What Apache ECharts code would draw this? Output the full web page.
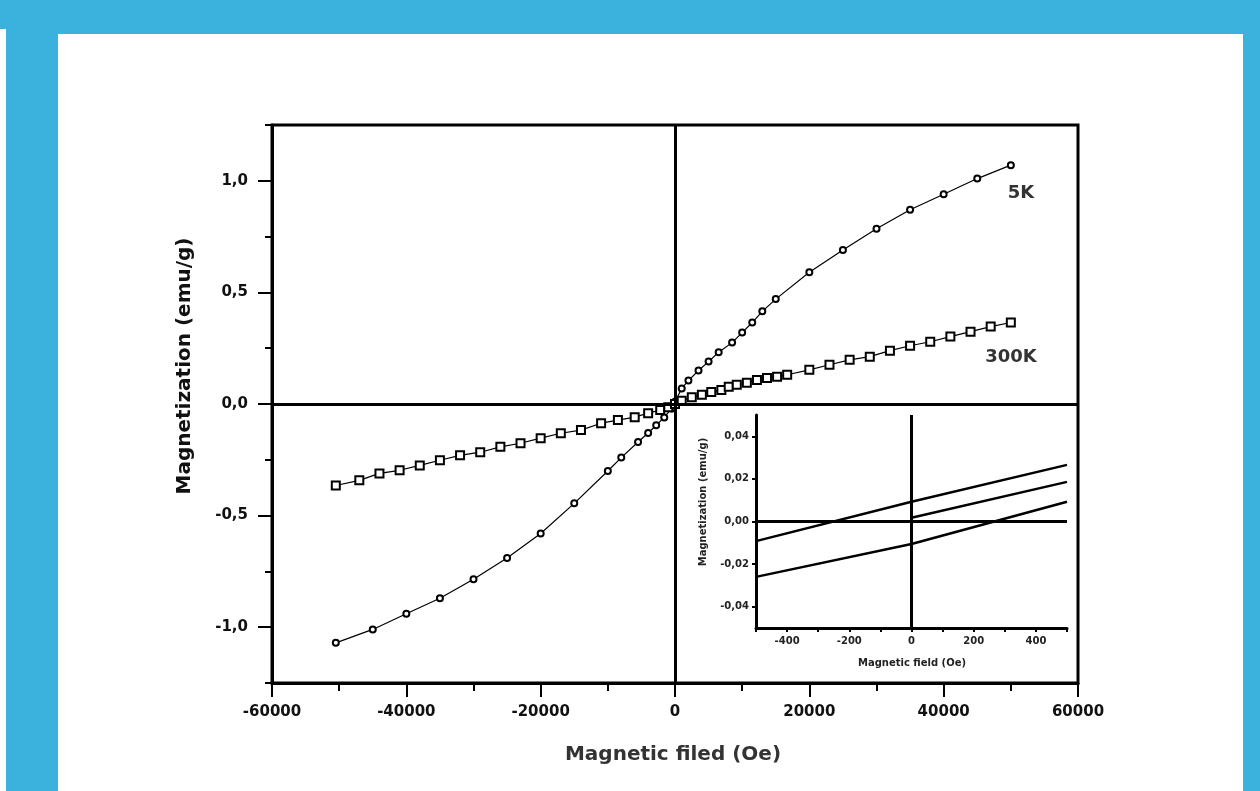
<!DOCTYPE html>
<html>
<head>
<meta charset="utf-8">
<script src="https://cdn.jsdelivr.net/npm/echarts@6/dist/echarts.min.js"></script>
<style>
  html, body { margin: 0; padding: 0; background: #fff; }
  #mainEchart { width: 1260px; height: 791px; }
</style>
</head>
<body>
<div id="mainEchart"></div>
<script>
  // main plot: field (Oe) and magnetization (emu/g)
  var field5K = [-50500, -45000, -40000, -35000, -30000, -25000, -20000, -15000, -10000, -8000,
    -5500, -4000, -2800, -1600, -500, 0, 1000, 2000, 3500, 5000,
    6500, 8500, 10000, 11500, 13000, 15000, 20000, 25000, 30000, 35000,
    40000, 45000, 50000];
  var mag5K = [-1.07, -1.01, -0.94, -0.87, -0.785, -0.69, -0.58, -0.445, -0.30, -0.24,
    -0.17, -0.13, -0.095, -0.06, -0.02, 0.01, 0.07, 0.105, 0.15, 0.19,
    0.232, 0.275, 0.32, 0.365, 0.415, 0.47, 0.59, 0.69, 0.785, 0.87,
    0.94, 1.01, 1.07];

  var field300K = [-50500, -47000, -44000, -41000, -38000, -35000, -32000, -29000, -26000, -23000, -20000,
    -17000, -14000, -11000, -8500, -6000, -4000, -2200, -1000,
    0, 1000, 2500, 4000, 5400, 6900, 8000, 9200, 10700, 12200, 13700, 15200, 16700,
    20000, 23000, 26000, 29000, 32000, 35000, 38000, 41000, 44000, 47000, 50000];
  var mag300K = [-0.365, -0.342, -0.311, -0.297, -0.275, -0.252, -0.23, -0.216, -0.192, -0.176, -0.153,
    -0.131, -0.117, -0.086, -0.072, -0.059, -0.041, -0.027, -0.015,
    0.0, 0.015, 0.03, 0.041, 0.054, 0.063, 0.077, 0.086, 0.095, 0.108, 0.117, 0.122, 0.131,
    0.153, 0.176, 0.198, 0.212, 0.239, 0.261, 0.279, 0.302, 0.324, 0.347, 0.365];

  var yTicks = [-1.0, -0.5, 0.0, 0.5, 1.0];

  // inset: low field loop
  var insetField = [-500, 0, 500];
  var insetUpper = [-0.0092, 0.0093, 0.0266];
  var insetLower = [-0.026, -0.0106, 0.0093];
  var virginField = [0, 500];
  var virginMag = [0.0018, 0.0186];
  var insetYTicks = [-0.04, -0.02, 0, 0.02, 0.04];

  function zip(xs, ys) {
    return xs.map(function (x, i) { return [x, ys[i]]; });
  }

  var FONT = '"DejaVu Sans", Arial, sans-serif';
  var BLUE = '#3bb1de';
  var zeroLines = {
    silent: true,
    symbol: 'none',
    label: { show: false },
    lineStyle: { color: '#000', width: 3, type: 'solid' },
    data: [{ xAxis: 0 }, { yAxis: 0 }]
  };

  var option = {
    animation: false,
    backgroundColor: '#fff',
    grid: [
      { left: 272, top: 125, width: 806, height: 558, show: true, borderColor: '#000', borderWidth: 3, backgroundColor: 'transparent' },
      { left: 756, top: 415, width: 311, height: 213 }
    ],
    xAxis: [
      {
        type: 'value', gridIndex: 0, position: 'bottom',
        min: -60000, max: 60000, interval: 20000,
        axisLine: { onZero: false, lineStyle: { color: '#000', width: 3 } },
        axisTick: { length: 14, lineStyle: { color: '#000', width: 2 } },
        minorTick: { show: true, splitNumber: 2, length: 8, lineStyle: { color: '#000', width: 2 } },
        splitLine: { show: false },
        axisLabel: {
          margin: 22, color: '#111', fontSize: 15, fontWeight: 'bold', fontFamily: FONT,
          formatter: function (v) { return String(v); }
        }
      },
      {
        type: 'value', gridIndex: 1, position: 'bottom',
        min: -500, max: 500, interval: 100,
        axisLine: { onZero: false, lineStyle: { color: '#000', width: 3 } },
        axisTick: { length: 4, lineStyle: { color: '#000', width: 2 } },
        splitLine: { show: false },
        axisLabel: {
          margin: 8, color: '#222', fontSize: 10, fontWeight: 'bold', fontFamily: FONT,
          formatter: function (v) { return v % 200 === 0 ? String(v) : ''; }
        }
      }
    ],
    yAxis: [
      {
        type: 'value', gridIndex: 0, position: 'left',
        min: -1.25, max: 1.25,
        axisLine: { onZero: false, lineStyle: { color: '#000', width: 3 } },
        axisTick: { length: 14, customValues: yTicks, lineStyle: { color: '#000', width: 2 } },
        splitLine: { show: false },
        axisLabel: {
          margin: 24, color: '#111', fontSize: 15, fontWeight: 'bold', fontFamily: FONT,
          customValues: yTicks,
          formatter: function (v) { return v.toFixed(1).replace('.', ','); }
        }
      },
      {
        // minor ticks every 0.25
        type: 'value', gridIndex: 0, position: 'left', offset: 0,
        min: -1.25, max: 1.25, interval: 0.25,
        axisLine: { show: false, onZero: false },
        axisTick: { length: 7, lineStyle: { color: '#000', width: 2 } },
        splitLine: { show: false },
        axisLabel: { show: false }
      },
      {
        type: 'value', gridIndex: 1, position: 'left',
        min: -0.05, max: 0.05,
        axisLine: { onZero: false, lineStyle: { color: '#000', width: 3 } },
        axisTick: { length: 4, customValues: insetYTicks, lineStyle: { color: '#000', width: 2 } },
        splitLine: { show: false },
        axisLabel: {
          margin: 7, color: '#222', fontSize: 10, fontWeight: 'bold', fontFamily: FONT,
          customValues: insetYTicks,
          formatter: function (v) { return v.toFixed(2).replace('.', ','); }
        }
      }
    ],
    series: [
      {
        name: '5K', type: 'line', xAxisIndex: 0, yAxisIndex: 0,
        data: zip(field5K, mag5K),
        symbol: 'emptyCircle', symbolSize: 6,
        itemStyle: { color: '#000', borderWidth: 1.5 },
        lineStyle: { color: '#000', width: 1.2 },
        markLine: zeroLines,
        z: 3
      },
      {
        name: '300K', type: 'line', xAxisIndex: 0, yAxisIndex: 0,
        data: zip(field300K, mag300K),
        symbol: 'emptyRect', symbolSize: 8,
        itemStyle: { color: '#000', borderWidth: 2 },
        lineStyle: { color: '#000', width: 1.2 },
        z: 3
      },
      {
        type: 'line', xAxisIndex: 1, yAxisIndex: 2,
        data: zip(insetField, insetUpper),
        showSymbol: false,
        lineStyle: { color: '#000', width: 2.5 },
        markLine: zeroLines
      },
      {
        type: 'line', xAxisIndex: 1, yAxisIndex: 2,
        data: zip(insetField, insetLower),
        showSymbol: false,
        lineStyle: { color: '#000', width: 2.5 }
      },
      {
        type: 'line', xAxisIndex: 1, yAxisIndex: 2,
        data: zip(virginField, virginMag),
        showSymbol: false,
        lineStyle: { color: '#000', width: 2.5 }
      }
    ],
    graphic: [
      // blue page frame
      { type: 'rect', shape: { x: 6, y: 0, width: 1254, height: 34 }, style: { fill: BLUE }, z: -10 },
      { type: 'rect', shape: { x: 0, y: 0, width: 6, height: 29 }, style: { fill: BLUE }, z: -10 },
      { type: 'rect', shape: { x: 6, y: 0, width: 52, height: 791 }, style: { fill: BLUE }, z: -10 },
      { type: 'rect', shape: { x: 1243, y: 0, width: 17, height: 791 }, style: { fill: BLUE }, z: -10 },
      // titles
      {
        type: 'text', x: 185, y: 366, rotation: Math.PI / 2,
        style: { text: 'Magnetization (emu/g)', x: 0, y: 0, align: 'center', verticalAlign: 'middle',
          fill: '#111', font: 'bold 20px ' + FONT }
      },
      {
        type: 'text', x: 673, y: 755,
        style: { text: 'Magnetic filed (Oe)', x: 0, y: 0, align: 'center', verticalAlign: 'middle',
          fill: '#333', font: 'bold 20px ' + FONT }
      },
      {
        type: 'text', x: 703, y: 502, rotation: Math.PI / 2,
        style: { text: 'Magnetization (emu/g)', x: 0, y: 0, align: 'center', verticalAlign: 'middle',
          fill: '#222', font: 'bold 10px ' + FONT }
      },
      {
        type: 'text', x: 912, y: 663,
        style: { text: 'Magnetic field (Oe)', x: 0, y: 0, align: 'center', verticalAlign: 'middle',
          fill: '#222', font: 'bold 10px ' + FONT }
      },
      // curve labels
      {
        type: 'text', x: 1021, y: 193,
        style: { text: '5K', x: 0, y: 0, align: 'center', verticalAlign: 'middle',
          fill: '#333', font: 'bold 18px ' + FONT }
      },
      {
        type: 'text', x: 1011, y: 357,
        style: { text: '300K', x: 0, y: 0, align: 'center', verticalAlign: 'middle',
          fill: '#333', font: 'bold 18px ' + FONT }
      }
    ]
  };

  var myEcharts = echarts.init(document.getElementById('mainEchart'));
  myEcharts.setOption(option);
</script>
</body>
</html>
